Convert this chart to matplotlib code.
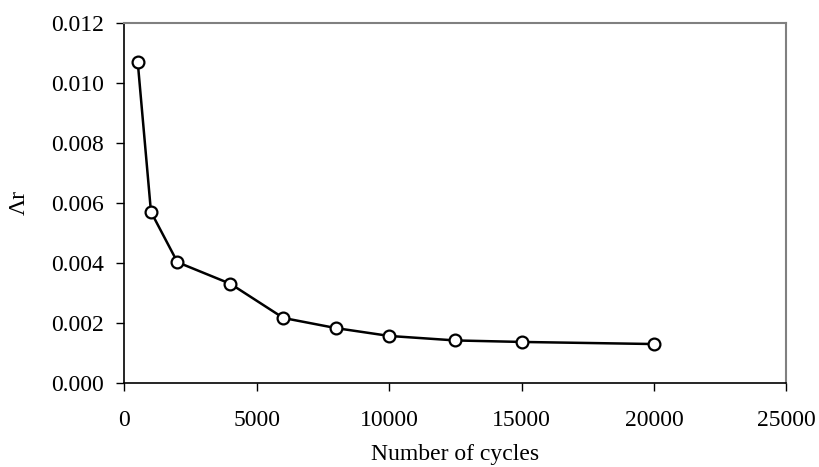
import matplotlib
matplotlib.use("Agg")
import matplotlib.pyplot as plt
from matplotlib.ticker import FormatStrFormatter

# datos
ciclos = [500, 1000, 2000, 4000, 6000, 8000, 10000, 12500, 15000, 20000]
lambda_r = [0.0107, 0.0057, 0.00402, 0.0033, 0.00216, 0.00182, 0.00156, 0.00141, 0.00136, 0.00129]
xticks = [0, 5000, 10000, 15000, 20000, 25000]
yticks = [0.000, 0.002, 0.004, 0.006, 0.008, 0.010, 0.012]

plt.rcParams['font.family'] = ['Liberation Serif', 'DejaVu Serif']

fig = plt.figure(figsize=(8.19, 4.67), dpi=100)
ax = fig.add_axes([0.152, 0.1805, 0.8083, 0.7702])

ax.plot(ciclos, lambda_r, color='black', linewidth=1.8, marker='o',
        markersize=8.5, markerfacecolor='white', markeredgecolor='black',
        markeredgewidth=1.6)

ax.set_xlim(0, 25000)
ax.set_ylim(0, 0.012)
ax.set_xticks(xticks)
ax.set_yticks(yticks)
ax.yaxis.set_major_formatter(FormatStrFormatter('%.3f'))

for lado in ['top', 'right']:
    ax.spines[lado].set_color('#808080')
    ax.spines[lado].set_linewidth(1.5)
for lado in ['left', 'bottom']:
    ax.spines[lado].set_color('black')
    ax.spines[lado].set_linewidth(1.2)

ax.tick_params(axis='both', direction='out', length=6, width=1, labelsize=17)
ax.tick_params(axis='x', pad=14)
ax.tick_params(axis='y', pad=9)

ax.set_xlabel('Number of cycles', fontsize=17, labelpad=9)
ax.set_ylabel('Λr', fontsize=17, labelpad=15)

plt.savefig('out.png', dpi=100)
